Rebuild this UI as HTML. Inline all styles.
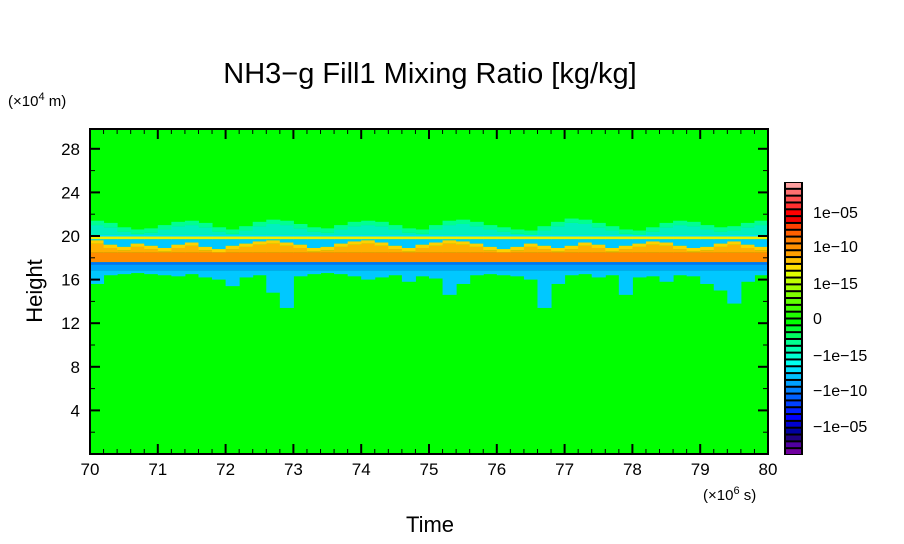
<!DOCTYPE html>
<html><head><meta charset="utf-8"><style>
body{margin:0;background:#fff;}
svg{display:block;font-family:"Liberation Sans",sans-serif;}
</style></head><body>
<svg id="c" width="904" height="544"></svg>
<script>
const times=[70.0,70.2,70.4,70.6,70.8,71.0,71.2,71.4,71.6,71.8,72.0,72.2,72.4,72.6,72.8,73.0,73.2,73.4,73.6,73.8,74.0,74.2,74.4,74.6,74.8,75.0,75.2,75.4,75.6,75.8,76.0,76.2,76.4,76.6,76.8,77.0,77.2,77.4,77.6,77.8,78.0,78.2,78.4,78.6,78.8,79.0,79.2,79.4,79.6,79.8];
const bottomH=[15.6,16.4,16.5,16.6,16.5,16.4,16.3,16.5,16.2,16.0,15.4,16.2,16.4,14.8,13.4,16.3,16.5,16.6,16.5,16.3,16.0,16.2,16.4,15.8,16.3,16.1,14.6,15.6,16.4,16.5,16.4,16.3,16.0,13.4,15.6,16.4,16.5,16.2,16.4,14.6,16.2,16.3,15.8,16.4,16.3,15.6,15.0,13.8,15.8,16.4];
const topH=[21.4,21.2,20.8,20.6,20.7,21.0,21.3,21.4,21.2,20.8,20.6,20.9,21.3,21.5,21.4,21.1,20.8,20.7,21.0,21.3,21.4,21.3,21.0,20.7,20.6,21.0,21.4,21.5,21.3,21.0,20.8,20.6,20.5,20.9,21.3,21.6,21.5,21.2,20.9,20.6,20.5,20.8,21.2,21.4,21.3,21.0,20.8,20.9,21.2,21.4];
const orangeTop=[19.6,19.2,19.0,19.3,19.1,18.9,19.2,19.4,19.0,18.8,19.1,19.3,19.5,19.6,19.4,19.2,18.9,19.0,19.3,19.5,19.6,19.4,19.1,18.9,19.2,19.4,19.6,19.5,19.3,19.0,18.8,19.0,19.3,19.1,18.9,19.1,19.4,19.2,18.9,19.1,19.3,19.5,19.4,19.1,18.9,19.0,19.3,19.5,19.2,19.0];
const xTicks=[70,71,72,73,74,75,76,77,78,79,80];
const yTicks=[4,8,12,16,20,24,28];
const cbLabels=["1e−05","1e−10","1e−15","0","−1e−15","−1e−10","−1e−05"];
const cbColors=["#ffa0a0","#ff7070","#ff5050","#ff3030","#ff0000","#f00000","#ff4000","#ff6000","#ff8000","#ff9000","#ffa000","#ffc000","#ffe000","#e0ff00","#c0ff00","#a0ff00","#80ff00","#60ff00","#40ff00","#20ff00","#00ff00","#00ff30","#00ff60","#00ff90","#00ffb0","#00ffd0","#00fff0","#00e0ff","#00c0ff","#00a0ff","#0080ff","#0060ff","#0040ff","#0020ff","#0000ff","#0000d0","#0000a0","#200080","#5000a0","#7000a0"];
const X0=90,X1=768,Y0=454,YS=10.9;
const xs=t=>X0+(t-70)/10*(X1-X0);
const ys=h=>Y0-h*YS;
const svg=document.getElementById('c');
const NS='http://www.w3.org/2000/svg';
function mk(tag,at,parent){const e=document.createElementNS(NS,tag);for(const k in at)e.setAttribute(k,at[k]);(parent||svg).appendChild(e);return e;}
let bg=mk('rect',{x:X0,y:129,width:X1-X0,height:Y0-129,fill:'#00ff00'});


const g=mk('g',{});


function band(i,hTop,hBot,col){if(hTop<=hBot)return;const x=xs(times[i]),w=xs(times[i]+0.2)-x+0.5;
 const r=mk('rect',{x:x,y:ys(hTop),width:w,height:ys(hBot)-ys(hTop),fill:col},g);
 
 }
for(let i=0;i<times.length;i++){
 const t=topH[i],o=orangeTop[i],b=bottomH[i];
 band(i,t,t-0.4,'#00ff90');
 band(i,t-0.4,20.1,'#00f0c0');
 band(i,20.1,19.95,'#00e0ff');
 band(i,19.95,19.7,'#f0f000');
 band(i,19.7,o,'#00c8ff');
 band(i,o,o-0.3,'#ffd000');
 band(i,o-0.3,18.5,'#ffb000');
 band(i,18.5,17.6,'#ff8c00');
 band(i,17.6,17.35,'#0070ff');
 band(i,17.35,Math.max(b,16.8),'#00a0ff');
 band(i,16.8,b,'#00c8ff');
}
mk('rect',{x:X0,y:129,width:X1-X0,height:Y0-129,fill:'none',stroke:'#000','stroke-width':2});
for(const t of xTicks){const x=xs(t);
 mk('line',{x1:x,y1:Y0,x2:x,y2:Y0-10,stroke:'#000','stroke-width':2});
 mk('line',{x1:x,y1:129,x2:x,y2:139,stroke:'#000','stroke-width':2});
 const l=mk('text',{x:x,y:475,'text-anchor':'middle','font-size':17});l.textContent=t;
 
 
 if(t<80)for(let k=1;k<5;k++){const xm=xs(t+k*0.2);mk('line',{x1:xm,y1:Y0,x2:xm,y2:Y0-5,stroke:'#000'});mk('line',{x1:xm,y1:129,x2:xm,y2:134,stroke:'#000'});}}
for(let h=2;h<30;h+=2){const y=ys(h);const major=yTicks.includes(h);const L=major?10:5;
 mk('line',{x1:X0,y1:y,x2:X0+L,y2:y,stroke:'#000','stroke-width':major?2:1});
 mk('line',{x1:X1,y1:y,x2:X1-L,y2:y,stroke:'#000','stroke-width':major?2:1});}
for(const h of yTicks){const l=mk('text',{x:80,y:ys(h)+6,'text-anchor':'end','font-size':17});l.textContent=h;
 
 }
let t=mk('text',{x:430,y:83,'text-anchor':'middle','font-size':29});t.textContent='NH3−g Fill1 Mixing Ratio [kg/kg]';

t=mk('text',{x:8,y:106,'font-size':15});t.innerHTML='(×10<tspan dy="-6" font-size="11">4</tspan><tspan dy="6"> m)</tspan>';

t=mk('text',{x:703,y:500,'font-size':15});t.innerHTML='(×10<tspan dy="-6" font-size="11">6</tspan><tspan dy="6"> s)</tspan>';

t=mk('text',{x:430,y:532,'text-anchor':'middle','font-size':22});t.textContent='Time';

t=mk('text',{x:42,y:291,'text-anchor':'middle','font-size':22,transform:'rotate(-90 42 291)'});t.textContent='Height';

const cb=mk('g',{});
const cT=182,cB=455,n=cbColors.length,bh=(cB-cT)/n;
mk('rect',{x:784,y:cT,width:19,height:cB-cT,fill:'#000'},cb);
cbColors.forEach((c,i)=>{const r=mk('rect',{x:786,y:cT+i*bh+1,width:15,height:bh-2,fill:c},cb);
 });
const labY=[212,246,283,318,355,390,426];
cbLabels.forEach((s,i)=>{const l=mk('text',{x:813,y:labY[i]+6,'font-size':16},cb);l.textContent=s;
 });
</script>
</body></html>
